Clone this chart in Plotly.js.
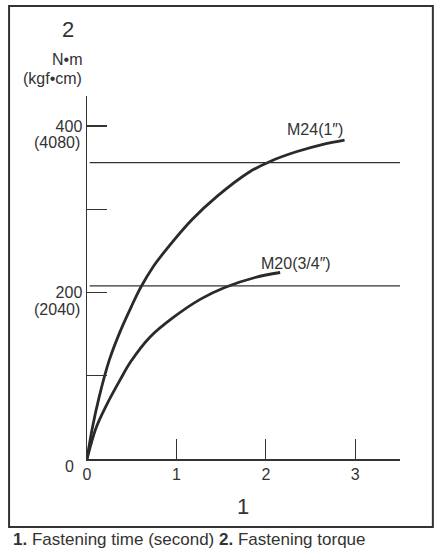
<!DOCTYPE html>
<html>
<head>
<meta charset="utf-8">
<script src="https://cdn.plot.ly/plotly-3.0.1.min.js"></script>
<style>html,body{margin:0;padding:0;background:#fff;}#chart{width:442px;height:550px;}</style>
</head>
<body>
<div id="chart"></div>
<script>
// Fastening time (s) and torque (N·m) readings
const m24Time = [0, 0.063, 0.137, 0.25, 0.37, 0.5, 0.6, 0.74, 0.89, 1.17, 1.46, 1.82, 2.06, 2.34, 2.64, 2.88];
const m24Torque = [0, 39, 75, 119, 153, 184, 206, 231, 252, 287, 316, 345, 358, 369, 378, 383];
const m20Time = [0, 0.10, 0.21, 0.37, 0.49, 0.70, 0.965, 1.27, 1.54, 1.88, 2.16];
const m20Torque = [0, 37, 63, 95, 117, 146, 170, 192, 206, 218, 224];
const limitX = [0.03, 3.53];
const m24Limit = 356;
const m20Limit = 208;
const xTickVals = [0, 1, 2, 3];
const xTickText = ['0', '1', '2', '3'];
const yTickVals = [0, 100, 200, 300, 400];
const yTickText = ['', '', '200', '', '400'];
const yTickSub = [{v: 200, t: '(2040)'}, {v: 400, t: '(4080)'}];
const curveLabels = ['M24(1″)', 'M20(3/4″)'];

const ink = '#2a2a2a';
const font = {family: 'Liberation Sans, Arial, sans-serif', size: 16, color: '#333'};

const traces = [
  {x: m24Time, y: m24Torque, mode: 'lines', line: {color: ink, width: 2.8, shape: 'spline', smoothing: 1}, hoverinfo: 'skip'},
  {x: m20Time, y: m20Torque, mode: 'lines', line: {color: ink, width: 2.8, shape: 'spline', smoothing: 1}, hoverinfo: 'skip'},
  {x: limitX, y: [m24Limit, m24Limit], mode: 'lines', line: {color: '#333', width: 1.3}, hoverinfo: 'skip'},
  {x: limitX, y: [m20Limit, m20Limit], mode: 'lines', line: {color: '#333', width: 1.3}, hoverinfo: 'skip'}
];

const annotations = [];
yTickSub.forEach(s => annotations.push({
  text: s.t, xref: 'paper', yref: 'y', x: -0.017, y: s.v, xanchor: 'right', yanchor: 'middle',
  yshift: -17, showarrow: false, font: font
}));
annotations.push(
  {text: '0', xref: 'paper', yref: 'y', x: -0.036, y: 0, yshift: -7, showarrow: false, xanchor: 'right', yanchor: 'middle', font: font},
  {text: '2', xref: 'paper', yref: 'paper', x: -0.061, y: 1.182, showarrow: false, xanchor: 'center', yanchor: 'middle', font: Object.assign({}, font, {size: 22})},
  {text: 'N•m', xref: 'paper', yref: 'paper', x: -0.010, y: 1.100, showarrow: false, xanchor: 'right', yanchor: 'middle', font: font},
  {text: '(kgf•cm)', xref: 'paper', yref: 'paper', x: -0.010, y: 1.048, showarrow: false, xanchor: 'right', yanchor: 'middle', font: font},
  {text: '1', xref: 'paper', yref: 'paper', x: 0.498, y: -0.132, showarrow: false, xanchor: 'center', yanchor: 'middle', font: Object.assign({}, font, {size: 22})},
  {text: '<b>1.</b> Fastening time (second) <b>2.</b> Fastening torque', xref: 'paper', yref: 'paper', x: -0.242, y: -0.221, showarrow: false, xanchor: 'left', yanchor: 'middle', font: Object.assign({}, font, {size: 17})},
  {text: curveLabels[0], xref: 'x', yref: 'y', x: 2.55, y: 396, showarrow: false, xanchor: 'center', yanchor: 'middle', font: font},
  {text: curveLabels[0], xref: 'x', yref: 'y', x: 3.56, y: 342, showarrow: false, xanchor: 'right', yanchor: 'middle', font: font},
  {text: curveLabels[1], xref: 'x', yref: 'y', x: 2.34, y: 235, showarrow: false, xanchor: 'center', yanchor: 'middle', font: font},
  {text: curveLabels[1], xref: 'x', yref: 'y', x: 3.72, y: 193, showarrow: false, xanchor: 'right', yanchor: 'middle', font: font}
);

const layout = {
  width: 442, height: 550,
  margin: {l: 87, r: 42, t: 96, b: 91},
  paper_bgcolor: '#fff', plot_bgcolor: '#fff',
  showlegend: false,
  font: font,
  xaxis: {
    range: [0, 3.5], showgrid: false, zeroline: false, showline: true, linecolor: '#333', linewidth: 1.5,
    ticks: 'inside', ticklen: 20, tickwidth: 1.2, tickcolor: '#333',
    tickmode: 'array', tickvals: xTickVals, ticktext: xTickText, tickfont: font, fixedrange: true
  },
  yaxis: {
    range: [0, 436], showgrid: false, zeroline: false, showline: true, linecolor: '#333', linewidth: 1.5,
    ticks: 'inside', ticklen: 20, tickwidth: 1.2, tickcolor: '#333',
    tickmode: 'array', tickvals: yTickVals, ticktext: yTickText, tickfont: font, fixedrange: true
  },
  shapes: [
    {type: 'rect', xref: 'paper', yref: 'paper', x0: -0.249, x1: 1.105, y0: -0.187, y1: 1.248, line: {color: '#333', width: 2}}
  ],
  annotations: annotations
};

Plotly.newPlot('chart', traces, layout, {staticPlot: true, displayModeBar: false});
</script>
</body>
</html>
